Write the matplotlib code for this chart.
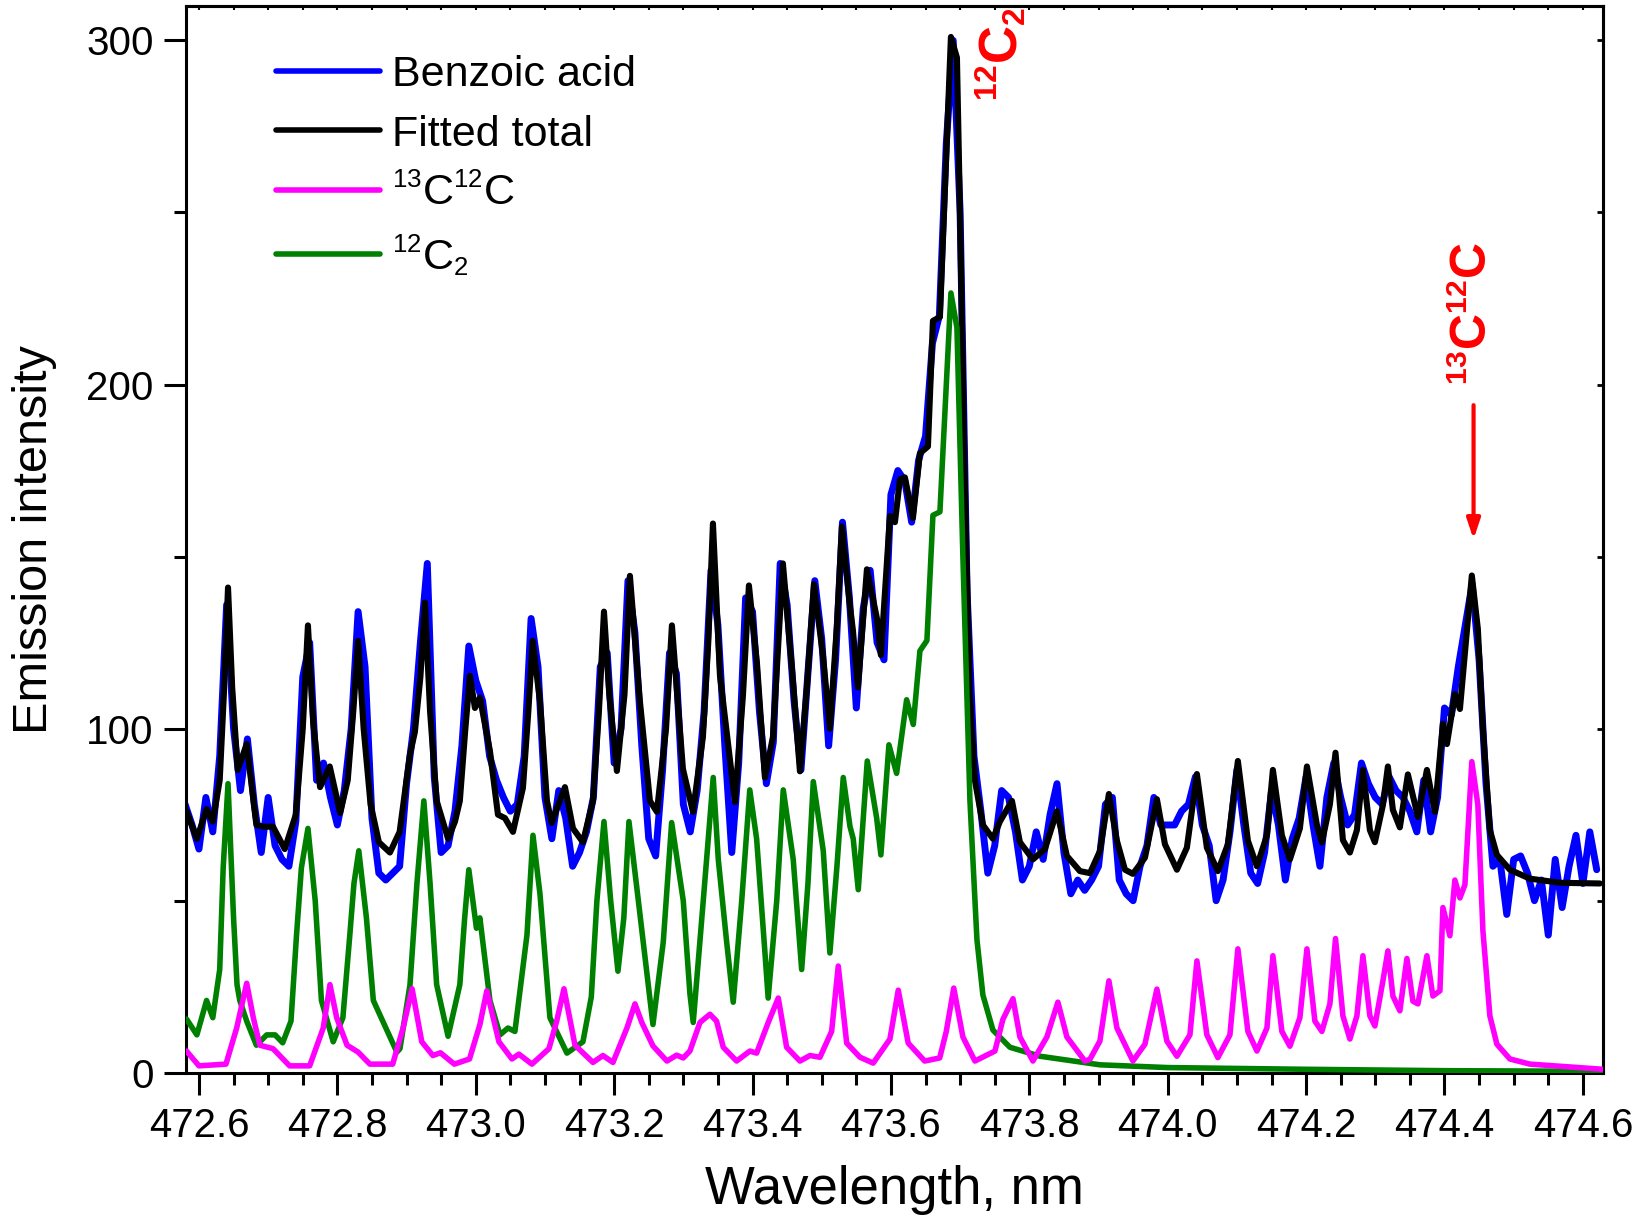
import numpy as np
import matplotlib
matplotlib.use('Agg')
import matplotlib.pyplot as plt
from matplotlib.ticker import MultipleLocator, FormatStrFormatter
try:
    import matplotlib._mathtext as _mt
    _mt.SHRINK_FACTOR = 0.6
except Exception:
    pass

plt.rcParams['font.family'] = ['Liberation Sans', 'DejaVu Sans']
plt.rcParams['mathtext.fontset'] = 'custom'
plt.rcParams['mathtext.rm'] = 'Liberation Sans'
plt.rcParams['mathtext.it'] = 'Liberation Sans:italic'
plt.rcParams['mathtext.bf'] = 'Liberation Sans:bold'

# ---------------- data ----------------
# measured spectrum (Benzoic acid), sampled every 0.01 nm from 472.58 nm
benzoic_start = 472.58
benzoic_step = 0.01
benzoic_y = [
    78, 72, 65, 80, 70, 92, 136, 100, 82, 97,
    78, 64, 80, 66, 62, 60, 73, 115, 125, 85,
    90, 80, 72, 82, 100, 134, 118, 74, 58, 56,
    58, 60, 84, 100, 125, 148, 86, 64, 66, 76,
    95, 124, 114, 108, 92, 85, 80, 76, 78, 92,
    132, 118, 80, 68, 82, 74, 60, 64, 70, 80,
    118, 122, 90, 100, 143, 128, 95, 68, 63, 88,
    122, 116, 78, 70, 82, 105, 146, 130, 95, 64,
    90, 138, 134, 105, 84, 96, 148, 136, 108, 88,
    116, 143, 126, 95, 120, 160, 138, 106, 135, 146,
    125, 120, 168, 175, 172, 160, 178, 185, 212, 220,
    270, 300, 250, 140, 92, 76, 58, 66, 82, 80,
    70, 56, 60, 70, 62, 75, 84, 64, 52, 56,
    53, 56, 60, 78, 80, 56, 52, 50, 60, 66,
    80, 72, 72, 72, 76, 78, 86, 72, 66, 50,
    56, 70, 88, 72, 58, 55, 64, 82, 72, 56,
    68, 74, 86, 72, 60, 80, 90, 80, 72, 75,
    90, 84, 80, 78, 86, 82, 80, 76, 70, 85,
    70, 80, 106, 104, 118, 130, 142, 120, 84, 60,
    62, 46, 62, 63, 58, 50, 56, 40, 62, 48,
    60, 69, 55, 70, 59,
]

fit_x = [
    472.582, 472.597, 472.611, 472.620, 472.630, 472.636, 472.642, 472.648, 472.656, 472.669,
    472.683, 472.693, 472.707, 472.724, 472.740, 472.750, 472.7575, 472.765, 472.775, 472.789,
    472.804, 472.815, 472.823, 472.830, 472.838, 472.848, 472.860, 472.876, 472.890, 472.905,
    472.912, 472.920, 472.9266, 472.934, 472.9435, 472.960, 472.970, 472.977, 472.985, 472.9916,
    472.9988, 473.0061, 473.0205, 473.0321, 473.0422, 473.0538, 473.0682, 473.076, 473.0822, 473.0928,
    473.1029, 473.1097, 473.1289, 473.1405, 473.1549, 473.1694, 473.178, 473.1853, 473.193, 473.2040,
    473.215, 473.2228, 473.2372, 473.2517, 473.2618, 473.275, 473.2835, 473.2994, 473.3139, 473.3283,
    473.336, 473.3428, 473.3529, 473.3746, 473.3861, 473.3948, 473.4064, 473.4179, 473.4295, 473.4439,
    473.4584, 473.4685, 473.4786, 473.4887, 473.5017, 473.5118, 473.522, 473.5292, 473.5408, 473.5451,
    473.5523, 473.5653, 473.5798, 473.5855, 473.5986, 473.6058, 473.6130, 473.6202, 473.6318, 473.6419,
    473.6535, 473.6607, 473.6708, 473.6867, 473.6954, 473.6997, 473.7069, 473.7142, 473.7214, 473.7329,
    473.7474, 473.7575, 473.7749, 473.7864, 473.8052, 473.8225, 473.8399, 473.8543, 473.8731, 473.8876,
    473.9020, 473.9150, 473.9266, 473.9382, 473.9497, 473.9671, 473.9844, 473.9960, 474.0133, 474.0277,
    474.0422, 474.0566, 474.0725, 474.0870, 474.1014, 474.1159, 474.1289, 474.1434, 474.1520, 474.1650,
    474.1766, 474.1910, 474.2012, 474.2156, 474.2228, 474.2344, 474.2425, 474.2532, 474.2633, 474.2734,
    474.2821, 474.2922, 474.2994, 474.3110, 474.3182, 474.3254, 474.3355, 474.3471, 474.3616, 474.3746,
    474.3861, 474.3977, 474.4035, 474.4150, 474.4223, 474.4295, 474.4395, 474.4482, 474.4555, 474.4656,
    474.4757, 474.4945, 474.5234, 474.5668, 474.6246,
]
fit_y = [
    76, 68, 76.6, 73, 85, 110, 141, 112, 88, 95.5,
    72, 71.5, 71.5, 65, 75, 100, 130, 102, 83, 89,
    75.5, 85, 105, 125.5, 100, 78, 67, 64, 70, 92.6,
    99, 115, 136.6, 105, 79, 68, 73, 79, 100, 115.4,
    106, 109, 93.5, 75, 74, 70, 82.8, 105, 125.5, 108,
    79, 72.6, 83, 71, 67, 79, 105, 134, 110, 87.7,
    110, 144.4, 108, 79, 75.8, 100, 130, 88.3, 75.8, 97.6,
    125, 159.6, 115.5, 78.7, 109.5, 141.6, 119, 85.8, 97.6, 148,
    114, 87.6, 112, 142, 121.4, 100, 130, 158.8, 135.6, 128.5,
    112, 146.3, 132, 121.4, 161.8, 160, 172.4, 173, 161.2, 180,
    182, 218.5, 219.6, 301, 295, 251, 170, 109.5, 85, 72,
    68, 73, 79, 67, 62, 65, 76, 63, 58.6, 58,
    64.4, 81, 67.4, 59, 57.8, 62.5, 79.5, 66.4, 59, 65.4,
    86.8, 65.4, 58.6, 66.4, 90.6, 67.4, 60, 69, 88, 69,
    62, 71, 89, 72, 66.9, 78, 93, 67.6, 64, 70.5,
    88, 70.5, 67, 77.8, 89, 76.4, 71.3, 86.7, 74.3, 88,
    75.8, 101.4, 95.5, 110, 105.7, 121.8, 144.5, 129, 100, 70.5,
    63.3, 59, 56.4, 55.2, 55,
]

c13c12_x = [
    472.582, 472.600, 472.639, 472.6545, 472.669, 472.6785, 472.688, 472.707, 472.731, 472.760,
    472.7796, 472.7893, 472.799, 472.814, 472.830, 472.847, 472.880, 472.895, 472.908, 472.922,
    472.938, 472.949, 472.969, 472.991, 473.006, 473.016, 473.0335, 473.0523, 473.0624, 473.0812,
    473.1058, 473.117, 473.1275, 473.1434, 473.1694, 473.1838, 473.1983, 473.2185, 473.2301, 473.2402,
    473.2561, 473.2763, 473.2903, 473.2999, 473.3095, 473.3240, 473.3384, 473.3480, 473.3577, 473.3770,
    473.3962, 473.4059, 473.4227, 473.4372, 473.4493, 473.4685, 473.4830, 473.4974, 473.5143, 473.5239,
    473.5361, 473.5553, 473.5744, 473.5986, 473.6106, 473.6250, 473.6488, 473.6705, 473.680, 473.6908,
    473.7040, 473.7214, 473.7503, 473.7618, 473.7764, 473.7864, 473.8052, 473.8254, 473.8413, 473.8543,
    473.8803, 473.8876, 473.9020, 473.9150, 473.9266, 473.9497, 473.9671, 473.9844, 473.9988, 474.0133,
    474.0321, 474.0422, 474.0566, 474.0725, 474.0899, 474.1014, 474.1159, 474.1289, 474.1434, 474.1520,
    474.1650, 474.1766, 474.1910, 474.2012, 474.2127, 474.2228, 474.2344, 474.2425, 474.2532, 474.2633,
    474.2734, 474.2821, 474.2922, 474.2994, 474.3110, 474.3182, 474.3254, 474.3355, 474.3457, 474.3543,
    474.3616, 474.3746, 474.3832, 474.3934, 474.3977, 474.4078, 474.4150, 474.4223, 474.4295, 474.4395,
    474.4482, 474.4555, 474.4656, 474.4757, 474.4945, 474.5234, 474.629,
]
c13c12_y = [
    6.3, 2, 2.5, 13, 26, 16, 8, 7, 2, 2,
    13, 25.6, 16, 8, 6, 2.5, 2.5, 13, 24.4, 9,
    5, 5.8, 2.5, 4, 14, 23.8, 9, 4, 5.4, 2.5,
    7, 15, 24.4, 8, 3, 5, 3, 13, 20, 14.5,
    7.8, 3.4, 5.1, 4.3, 6.3, 14.6, 17, 15, 7.4, 3.4,
    6.3, 5.7, 14.6, 21.7, 7.4, 3.4, 5, 4.5, 12, 31,
    8.6, 4.5, 2.8, 9.8, 24, 8.6, 3.4, 4.3, 12, 24.6,
    10.4, 3.4, 6.3, 15.5, 21.5, 10.4, 3.4, 10.4, 20.5, 10.4,
    3.4, 3.9, 9.2, 26.7, 13, 3.4, 8.3, 24.3, 9.2, 4.8,
    11, 32.5, 11, 4.4, 11, 36, 12, 6.3, 13, 34,
    12, 7.7, 16, 36, 15, 12, 20, 39, 16.5, 9.8,
    16.5, 34, 16.5, 13.6, 26.7, 35.4, 22.3, 18, 33.2, 20.8,
    20, 34, 22.3, 23.8, 48, 39.8, 56, 50.8, 54.6, 90.4,
    77.9, 41.3, 16.5, 8.3, 4, 2.5, 1,
]

c12c2_x = [
    472.582, 472.597, 472.611, 472.620, 472.630, 472.635, 472.642, 472.650, 472.655, 472.659,
    472.669, 472.683, 472.698, 472.710, 472.721, 472.733, 472.741, 472.748, 472.7575, 472.768,
    472.777, 472.794, 472.808, 472.818, 472.824, 472.831, 472.842, 472.852, 472.886, 472.8905,
    472.905, 472.915, 472.925, 472.934, 472.9435, 472.960, 472.977, 472.984, 472.990, 473.001,
    473.006, 473.0205, 473.035, 473.0466, 473.0566, 473.074, 473.0827, 473.0928, 473.1072, 473.1318,
    473.1549, 473.167, 473.1751, 473.1853, 473.195, 473.2055, 473.214, 473.2214, 473.2344, 473.2561,
    473.2710, 473.2831, 473.2999, 473.3095, 473.3143, 473.3288, 473.3432, 473.3505, 473.3626, 473.3721,
    473.3844, 473.3960, 473.4059, 473.4179, 473.4226, 473.4350, 473.4444, 473.4588, 473.4710, 473.4801,
    473.4878, 473.5022, 473.5118, 473.5220, 473.5311, 473.5408, 473.5455, 473.5528, 473.5658, 473.5794,
    473.5855, 473.5971, 473.6082, 473.6227, 473.6323, 473.6419, 473.6520, 473.6607, 473.6708, 473.6867,
    473.6954, 473.7040, 473.7142, 473.7243, 473.7329, 473.7474, 473.7720, 473.8153, 473.9020, 474.0,
    474.2, 474.4, 474.629,
]
c12c2_y = [
    15.6, 11, 21, 16, 30, 59.5, 84, 45, 25.6, 21,
    15, 8, 11, 11, 8.7, 15, 40, 59.5, 71, 50,
    21, 9, 16, 40, 55, 64.5, 45, 21, 6, 7,
    25.6, 55, 79, 55, 25.6, 10.6, 25.6, 45, 59, 42,
    45, 21, 11, 13, 12, 40, 69, 52, 16, 5.7,
    9, 22, 50, 73, 50, 29.5, 45, 73, 51, 14,
    38, 72.7, 50, 23, 14.6, 50, 85.8, 62, 38, 20.5,
    50, 82.2, 68, 35, 21.7, 50, 82.2, 62, 30, 55,
    84.6, 64.5, 34.8, 60, 85.8, 71.6, 68, 53.2, 90.6, 74,
    63.3, 95.3, 87, 108.4, 101.2, 122.6, 125.6, 162, 163, 226.6,
    216.5, 150, 79, 38.7, 22.6, 12.4, 7.4, 4.8, 2.3, 1.5,
    1.0, 0.6, 0.4,
]

x_major_ticks = [472.6, 472.8, 473.0, 473.2, 473.4, 473.6, 473.8, 474.0, 474.2, 474.4, 474.6]
y_major_ticks = [0, 100, 200, 300]

benzoic_x = benzoic_start + benzoic_step * np.arange(len(benzoic_y))

# ---------------- figure ----------------
fig = plt.figure(figsize=(16.33, 12.25), dpi=100)
ax = fig.add_axes([0.1137, 0.1243, 0.8679, 0.8708])

common = dict(solid_joinstyle='round', solid_capstyle='round')
l1, = ax.plot(benzoic_x, benzoic_y, color='#0000FF', lw=5.0, label='Benzoic acid', zorder=2, **common)
l2, = ax.plot(fit_x, fit_y, color='black', lw=4.4, label='Fitted total', zorder=3, **common)
l3, = ax.plot(c13c12_x, c13c12_y, color='#FF00FF', lw=4.0, label=r'$^{13}$C$^{12}$C', zorder=4, **common)
l4, = ax.plot(c12c2_x, c12c2_y, color='#008000', lw=4.0, label=r'$^{12}$C$_{2}$', zorder=3.5, **common)

ax.set_xlim(472.5808, 474.629)
ax.set_ylim(0, 310)

ax.set_xticks(x_major_ticks)
ax.xaxis.set_major_formatter(FormatStrFormatter('%.1f'))
ax.xaxis.set_minor_locator(MultipleLocator(0.05))
ax.set_yticks(y_major_ticks)
ax.yaxis.set_minor_locator(MultipleLocator(50))

for s in ax.spines.values():
    s.set_linewidth(2.2)

ax.tick_params(axis='both', which='major', direction='out', length=16, width=2.2,
               labelsize=29, top=False, right=False)
ax.tick_params(axis='both', which='minor', direction='out', length=8.6, width=2.2,
               top=False, right=False)
ax.tick_params(axis='x', which='major', pad=9)
ax.tick_params(axis='y', which='major', pad=7)

secx = ax.secondary_xaxis('top')
secx.set_xticks(x_major_ticks)
secx.xaxis.set_minor_locator(MultipleLocator(0.05))
secx.tick_params(which='both', direction='in', length=3, width=1.5, labeltop=False)
secy = ax.secondary_yaxis('right')
secy.set_yticks([0, 50, 100, 150, 200, 250, 300])
secy.tick_params(which='both', direction='in', length=4, width=2, labelright=False)
secx.spines['top'].set_linewidth(2.2)
secy.spines['right'].set_linewidth(2.2)

ax.set_xlabel('Wavelength, nm', fontsize=38, labelpad=14)
ax.set_ylabel('Emission intensity', fontsize=35, labelpad=21)

leg = ax.legend(handles=[l1, l2, l3, l4], loc='upper left', bbox_to_anchor=(0.058, 0.962),
                frameon=False, fontsize=31, handlelength=2.4, handletextpad=0.28,
                labelspacing=0.45, borderpad=0.2, borderaxespad=0)
for h in leg.get_lines():
    h.set_linewidth(4)

ax.text(473.760, 282.5, r'$\mathbf{^{12}C_{2}}$', rotation=90, color='red',
        fontsize=38, ha='center', va='bottom')
ax.text(474.443, 200, r'$\mathbf{^{13}C^{12}C}$', rotation=90, color='red',
        fontsize=36, ha='center', va='bottom')
ax.annotate('', xy=(474.442, 155), xytext=(474.442, 194),
            arrowprops=dict(arrowstyle='-|>,head_length=0.6,head_width=0.2',
                            color='red', lw=3, shrinkA=0, shrinkB=0, mutation_scale=20))

fig.savefig('out.png', dpi=100)
